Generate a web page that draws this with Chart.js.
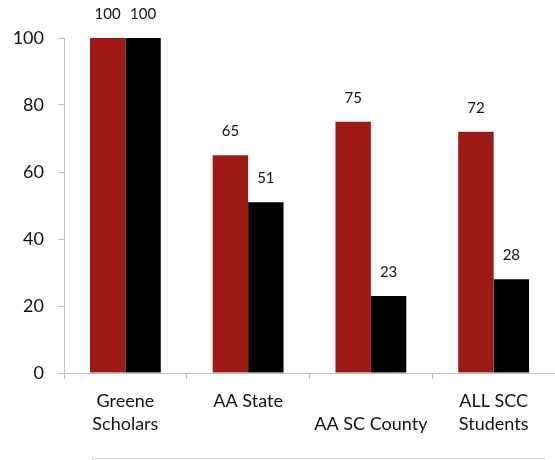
<!DOCTYPE html>
<html>
<head>
<meta charset="utf-8">
<script src="https://cdn.jsdelivr.net/npm/chart.js@4.4.0/dist/chart.umd.min.js"></script>
<style>
  html, body { margin: 0; padding: 0; background: #fff; }
  #wrap { width: 555px; height: 460px; position: relative; }
</style>
</head>
<body>
<div id="wrap"><canvas id="chart"></canvas></div>
<script>
// chart data
const categories = [['Greene', 'Scholars'], ['AA State'], ['', 'AA SC County'], ['ALL SCC', 'Students']];
const seriesRed = [100, 65, 75, 72];
const seriesBlack = [100, 51, 23, 28];
const yTicks = [0, 20, 40, 60, 80, 100];

const axisGray = '#BFBFBF';
const textColor = '#111111';

// value labels above each bar
const valueLabels = {
    id: 'valueLabels',
    afterDatasetsDraw(chart) {
        const ctx = chart.ctx;
        ctx.save();
        ctx.font = '15px Lato';
        ctx.fillStyle = textColor;
        ctx.textAlign = 'center';
        ctx.textBaseline = 'middle';
        chart.data.datasets.forEach((ds, i) => {
            chart.getDatasetMeta(i).data.forEach((bar, j) => {
                ctx.fillText(ds.data[j], bar.x, bar.y - 24);
            });
        });
        ctx.restore();
    }
};

// frame of the (cut off) legend box at the bottom
const legendFrame = {
    id: 'legendFrame',
    afterDraw(chart) {
        const ctx = chart.ctx;
        ctx.save();
        ctx.strokeStyle = '#D9D9D9';
        ctx.lineWidth = 1;
        ctx.strokeRect(92.5, 458.5, 452, 30);
        ctx.restore();
    }
};

const ctx = document.getElementById('chart').getContext('2d');
new Chart(ctx, {
    type: 'bar',
    data: {
        labels: categories,
        datasets: [
            { label: 'Series 1', data: seriesRed, backgroundColor: '#9C1915' },
            { label: 'Series 2', data: seriesBlack, backgroundColor: '#000000' }
        ]
    },
    options: {
        responsive: true,
        maintainAspectRatio: false,
        animation: false,
        categoryPercentage: 0.577,
        barPercentage: 1,
        layout: { padding: { top: 38, bottom: 0, left: 0, right: 0 } },
        plugins: {
            legend: { display: false },
            tooltip: { enabled: false }
        },
        scales: {
            x: {
                grid: { offset: true, drawOnChartArea: false, tickLength: 6, color: axisGray },
                border: { color: axisGray },
                ticks: {
                    color: textColor,
                    font: { family: 'Lato', size: 18, lineHeight: 1.28 },
                    padding: 11,
                    maxRotation: 0,
                    autoSkip: false
                },
                afterFit(scale) { scale.height = 87; }
            },
            y: {
                min: 0,
                max: 100,
                afterBuildTicks(scale) { scale.ticks = yTicks.map(v => ({ value: v })); },
                grid: { drawOnChartArea: false, tickLength: 6, color: axisGray },
                border: { color: axisGray },
                ticks: {
                    color: textColor,
                    font: { family: 'Lato', size: 18 },
                    padding: 14
                },
                afterFit(scale) { scale.width = 64; }
            }
        }
    },
    plugins: [valueLabels, legendFrame]
});
</script>
</body>
</html>
